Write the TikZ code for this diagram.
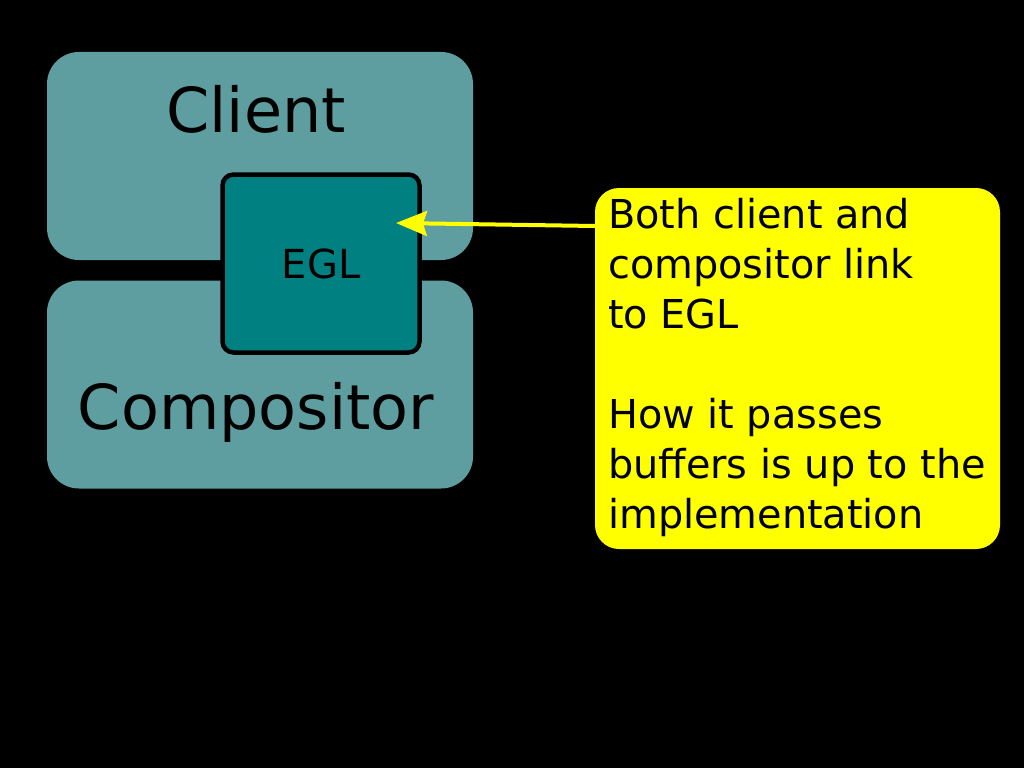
\documentclass[tikz,border=0pt]{standalone}
\usepackage{fontspec}
\setmainfont{DejaVu Sans}
\usetikzlibrary{arrows.meta}
\definecolor{cadet}{HTML}{5F9EA0}
\definecolor{tealc}{HTML}{008080}
\definecolor{noteyellow}{HTML}{FFFF00}
\begin{document}
\begin{tikzpicture}[x=1pt,y=-1pt,
  outerbox/.style={draw=none, fill=cadet, rounded corners=32pt, minimum width=426pt, minimum height=208pt, inner sep=0pt},
  eglbox/.style={draw=black, line width=4.5pt, fill=tealc, rounded corners=11pt, minimum width=197pt, minimum height=178pt, inner sep=0pt, font=\fontsize{40}{40}\selectfont},
  bigtext/.style={anchor=base, inner sep=0pt, font=\fontsize{62}{62}\selectfont},
  notebox/.style={draw=none, fill=noteyellow, rounded corners=24pt, minimum width=405pt, minimum height=361pt, inner sep=0pt},
  notetext/.style={anchor=base west, inner sep=0pt, align=left, font=\fontsize{39.8}{50}\selectfont},
  linkarrow/.style={draw=noteyellow, line width=4pt, -{Stealth[length=31pt, width=25pt, inset=4pt]}}
]
\useasboundingbox (0,0) rectangle (1024,768);
\fill[black] (0,0) rectangle (1024,768);
\node[outerbox] (client) at (260,156) {};
\node[outerbox] (compositor) at (260,384.5) {};
\node[bigtext] (clienttext) at (256,132) {Client};
\node[bigtext] (compositortext) at (256,429) {Compositor};
\node[eglbox] (egl) at (321,263.5) {EGL};
\node[notebox] (note) at (797.5,368.5) {};
\node[notetext] (notetxt) at (608,528) {Both client and\\compositor link\\to EGL\\[50pt]How it passes\\buffers is up to the\\implementation};
\coordinate (start) at (595,226);
\coordinate (tip) at (396,223);
\draw[linkarrow] (start) -- (tip);
\end{tikzpicture}
\end{document}
